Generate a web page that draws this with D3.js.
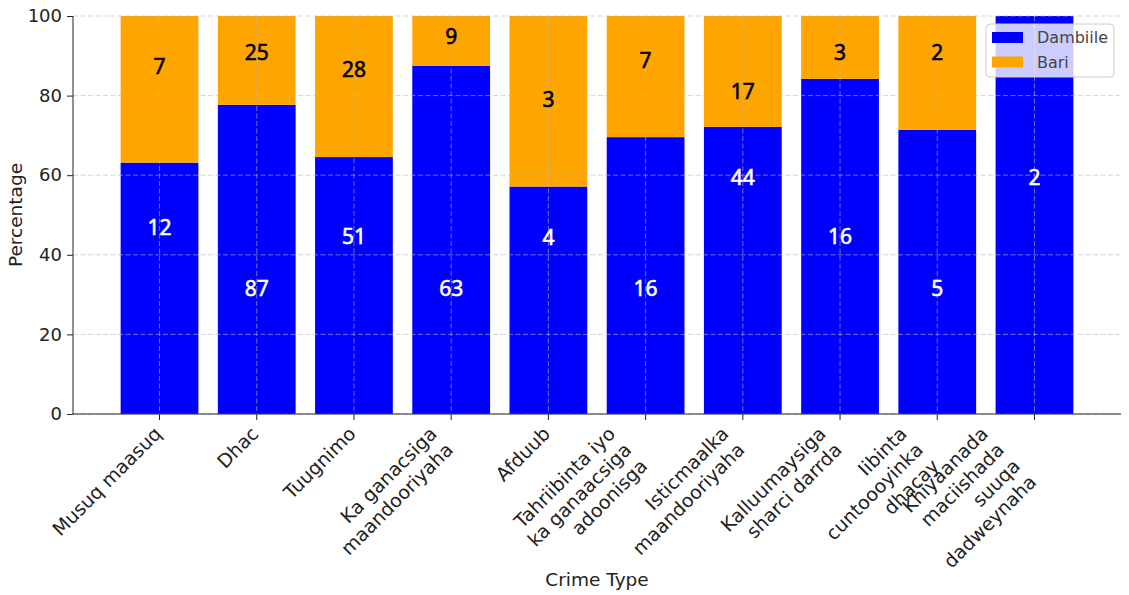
<!DOCTYPE html>
<html>
<head>
<meta charset="utf-8">
<script src="https://cdn.jsdelivr.net/npm/d3@7"></script>
<style>
  body { margin: 0; background: #fff; }
  svg { display: block; font-family: "DejaVu Sans", sans-serif; }
  .axis path, .axis line { stroke: #222; }
  .axis text { fill: #222; font-size: 18px; font-family: "DejaVu Sans", sans-serif; }
  .axis.x text { font-size: 19px; }
</style>
</head>
<body>
<div id="graph"></div>
<script>
var categories = [
  "Musuq maasuq",
  "Dhac",
  "Tuugnimo",
  "Ka ganacsiga\nmaandooriyaha",
  "Afduub",
  "Tahriibinta iyo\nka ganaacsiga\nadoonisga",
  "Isticmaalka\nmaandooriyaha",
  "Kalluumaysiga\nsharci darrda",
  "Iibinta\ncuntoooyinka\ndhacay",
  "Khiyaanada\nmaciishada\nsuuqa\ndadweynaha"
];
var dambiile = [12, 87, 51, 63, 4, 16, 44, 16, 5, 2];
var bari = [7, 25, 28, 9, 3, 7, 17, 3, 2, 0];
// where the count labels sit in the picture (percent units)
var dambiileLabelAt = [47.0, 31.7, 44.7, 31.7, 44.5, 31.7, 59.5, 44.7, 31.7, 59.5];
var bariLabelAt = [87.4, 91.0, 86.7, 95.0, 79.1, 88.9, 81.2, 91.0, 91.0, 100];
var yTicks = [0, 20, 40, 60, 80, 100];
var seriesNames = ["Dambiile", "Bari"];

var width = 1129, height = 595;
var margin = { top: 16, left: 73, bottom: 181, right: 8 };
var colors = { Dambiile: "#0000ff", Bari: "#ffa500" };

var data = categories.map(function(c, i) {
  var total = dambiile[i] + bari[i];
  return {
    cat: c,
    Dambiile: dambiile[i] / total * 100,
    Bari: bari[i] / total * 100,
    nD: dambiile[i], nB: bari[i],
    lD: dambiileLabelAt[i], lB: bariLabelAt[i]
  };
});

var svg = d3.select("#graph").append("svg")
  .attr("width", width).attr("height", height);

var xScale = d3.scaleBand()
  .domain(categories)
  .range([margin.left, width - margin.right])
  .paddingInner(0.2)
  .paddingOuter(0.49);

var yScale = d3.scaleLinear()
  .domain([0, 100])
  .range([height - margin.bottom, margin.top]);

// bars
var stack = d3.stack().keys(seriesNames)(data);
svg.append("g").selectAll("g")
  .data(stack)
  .enter().append("g")
  .attr("fill", function(d) { return colors[d.key]; })
  .selectAll("rect")
  .data(function(d) { return d; })
  .enter().append("rect")
  .attr("x", function(d) { return xScale(d.data.cat); })
  .attr("y", function(d) { return yScale(d[1]); })
  .attr("width", xScale.bandwidth())
  .attr("height", function(d) { return yScale(d[0]) - yScale(d[1]); });

// grid on top of bars
var grid = svg.append("g")
  .attr("stroke", "#b8b8b8")
  .attr("stroke-opacity", 0.6)
  .attr("stroke-width", 1)
  .attr("stroke-dasharray", "5,2.5");
grid.selectAll(".hg").data(yTicks).enter().append("line")
  .attr("x1", margin.left).attr("x2", width - margin.right)
  .attr("y1", function(d) { return yScale(d); })
  .attr("y2", function(d) { return yScale(d); });
grid.selectAll(".vg").data(categories).enter().append("line")
  .attr("x1", function(d) { return xScale(d) + xScale.bandwidth() / 2; })
  .attr("x2", function(d) { return xScale(d) + xScale.bandwidth() / 2; })
  .attr("y1", yScale(100)).attr("y2", yScale(0));

// count labels
var labels = svg.append("g")
  .attr("font-family", "'Noto Sans', sans-serif")
  .attr("font-size", 21)
  .attr("text-anchor", "middle")
  .attr("dominant-baseline", "central")
  .attr("stroke-width", 0.6);
labels.selectAll(".ld").data(data).enter().append("text")
  .attr("x", function(d) { return xScale(d.cat) + xScale.bandwidth() / 2; })
  .attr("y", function(d) { return yScale(d.lD); })
  .attr("fill", "#fff").attr("stroke", "#fff")
  .text(function(d) { return d.nD; });
labels.selectAll(".lb").data(data.filter(function(d) { return d.nB > 0; })).enter().append("text")
  .attr("x", function(d) { return xScale(d.cat) + xScale.bandwidth() / 2; })
  .attr("y", function(d) { return yScale(d.lB); })
  .attr("fill", "#000").attr("stroke", "#000")
  .text(function(d) { return d.nB; });

// axes
var yAxis = d3.axisLeft(yScale).tickValues(yTicks).tickSize(6).tickPadding(5);
svg.append("g").attr("class", "axis y")
  .attr("transform", "translate(" + margin.left + ",0)")
  .call(yAxis)
  .call(function(g) { g.select(".domain").attr("d", "M0," + yScale(0) + "V" + yScale(100)); });

var lh = 22.8;
var xAxis = d3.axisBottom(xScale).tickSize(6).tickFormat("");
var xg = svg.append("g").attr("class", "axis x")
  .attr("transform", "translate(0," + yScale(0) + ")")
  .call(xAxis)
  .call(function(g) { g.select(".domain").attr("d", "M" + margin.left + ",0H" + (width - margin.right)); });

xg.selectAll(".tick").each(function(d) {
  var lines = d.split("\n");
  var n = lines.length;
  var t = d3.select(this).append("text")
    .attr("fill", "#222")
    .attr("text-anchor", "end")
    .attr("transform", "translate(" + (3 - 0.707 * (n - 1) * lh) + ",21) rotate(-45)");
  lines.forEach(function(l, i) {
    t.append("tspan").attr("x", 0).attr("dy", i === 0 ? 0 : lh).text(l);
  });
});

// axis titles
svg.append("text")
  .attr("transform", "translate(22," + (yScale(50)) + ") rotate(-90)")
  .attr("text-anchor", "middle")
  .attr("font-size", 18.5)
  .attr("fill", "#222")
  .text("Percentage");
svg.append("text")
  .attr("x", (margin.left + width - margin.right) / 2)
  .attr("y", 586)
  .attr("text-anchor", "middle")
  .attr("font-size", 18.5)
  .attr("fill", "#222")
  .text("Crime Type");

// legend
var legend = svg.append("g").attr("transform", "translate(986,24)");
legend.append("rect")
  .attr("width", 128).attr("height", 53)
  .attr("rx", 4)
  .attr("fill", "#fff").attr("fill-opacity", 0.8)
  .attr("stroke", "#cccccc");
var entry = legend.selectAll(".entry").data(seriesNames).enter().append("g")
  .attr("class", "entry")
  .attr("transform", function(d, i) { return "translate(0," + i * 24.5 + ")"; });
entry.append("rect")
  .attr("x", 6).attr("y", 8)
  .attr("width", 31).attr("height", 11)
  .attr("fill", function(d) { return colors[d]; });
entry.append("text")
  .attr("x", 51).attr("y", 19)
  .attr("font-size", 16)
  .attr("fill", "#444")
  .text(function(d) { return d; });
</script>
</body>
</html>
